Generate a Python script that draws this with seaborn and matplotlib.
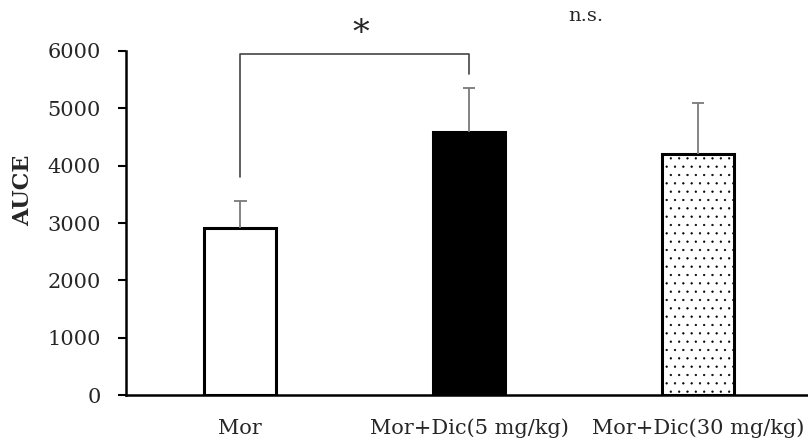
import matplotlib
matplotlib.use("Agg")
import matplotlib.pyplot as plt
import seaborn as sns
import pandas as pd

groups = ["Mor", "Mor+Dic(5 mg/kg)", "Mor+Dic(30 mg/kg)"]
auce_mean = [2910, 4590, 4200]
auce_sd = [470, 760, 900]
y_ticks = [0, 1000, 2000, 3000, 4000, 5000, 6000]

sns.set_theme(style="white")
plt.rcParams["font.family"] = ["DejaVu Serif"]
plt.rcParams["hatch.linewidth"] = 0.4
plt.rcParams["hatch.color"] = "#333333"

df = pd.DataFrame({"group": groups, "AUCE": auce_mean})

fig = plt.figure(figsize=(8.08, 4.43), dpi=100)
ax = fig.add_axes([0.156, 0.108, 0.844, 0.777])

sns.barplot(data=df, x="group", y="AUCE", ax=ax, width=0.315,
            color="white", edgecolor="black", linewidth=2.2, errorbar=None)

bars = ax.patches
bars[1].set_facecolor("black")
bars[2].set_facecolor("white")
bars[2].set_hatch("..")

# upper-only SD whiskers
for i, (m, s) in enumerate(zip(auce_mean, auce_sd)):
    ax.vlines(i, m, m + s, color="#7a7a7a", lw=1.3, zorder=1)
    ax.hlines(m + s, i - 0.028, i + 0.028, color="#7a7a7a", lw=1.3, zorder=1)

# significance bracket between Mor and Mor+Dic(5 mg/kg)
ax.plot([0.0, 0.0, 1.0, 1.0], [3800, 5940, 5940, 5590],
        color="#444444", lw=1.2, clip_on=False, zorder=1)
ax.text(0.528, 6300, "*", ha="center", va="center", fontsize=24, clip_on=False)
ax.text(1.511, 6614, "n.s.", ha="center", va="center", fontsize=14, clip_on=False)

ax.set_ylim(0, 6000)
ax.set_xlim(-0.498, 2.48)
ax.set_yticks(y_ticks)
ax.set_yticklabels([str(v) for v in y_ticks], fontsize=15)
ax.tick_params(axis="x", length=0, labelsize=15, pad=17)
ax.tick_params(axis="y", direction="out", length=6, width=1.5, color="black",
               left=True, labelsize=15, pad=12)
ax.set_xlabel("")
ax.set_ylabel("")
fig.text(23 / 808, 1 - 190 / 443, "AUCE", rotation=90, ha="center", va="center",
         fontsize=16, fontweight="bold")

for side in ["top", "right"]:
    ax.spines[side].set_visible(False)
for side in ["left", "bottom"]:
    ax.spines[side].set_color("black")
    ax.spines[side].set_linewidth(1.8)

fig.savefig("out.png", dpi=100)
